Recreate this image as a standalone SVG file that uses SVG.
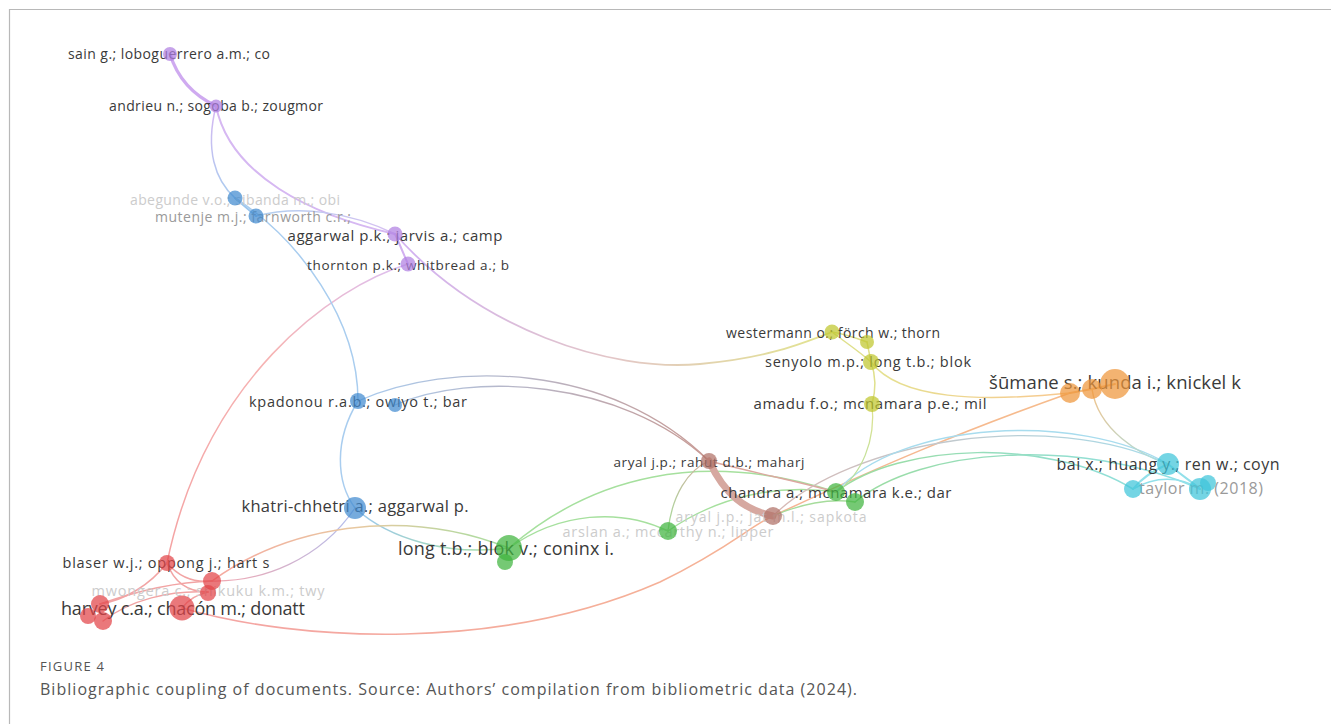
<svg xmlns="http://www.w3.org/2000/svg" width="1331" height="724" viewBox="0 0 1331 724">
  <style>
    .lbl { font-family: "Open Sans", "Liberation Sans", sans-serif; fill: #3a3a3a; text-anchor: middle; }
    .faint { fill: #cccccc; }
    .grey { fill: #9a9a9a; }
    .e { fill: none; stroke-linecap: round; }
    .pu { fill: #b080e2; }
    .bl { fill: #418bd0; }
    .gr { fill: #40b43e; }
    .br { fill: #b07066; }
    .ye { fill: #bfc62c; }
    .or { fill: #ee963a; }
    .cy { fill: #3ec5da; }
    .rd { fill: #e24448; }
    .node circle { fill-opacity: 0.72; }
    .cap { font-family: "Open Sans", "Liberation Sans", sans-serif; fill: #555; }
  </style>
  <defs>
    <linearGradient id="gPuBl" gradientUnits="userSpaceOnUse" x1="216" y1="106" x2="235" y2="198"><stop offset="0" stop-color="#d6b8f2"/><stop offset="1" stop-color="#a9cdef"/></linearGradient>
    <linearGradient id="gPuYe" gradientUnits="userSpaceOnUse" x1="408" y1="264" x2="832" y2="332"><stop offset="0" stop-color="#d2b2f0"/><stop offset="0.5" stop-color="#e3c6c8"/><stop offset="1" stop-color="#e2e48e"/></linearGradient>
    <linearGradient id="gPuRd" gradientUnits="userSpaceOnUse" x1="408" y1="264" x2="167" y2="563"><stop offset="0" stop-color="#dcc0f2"/><stop offset="0.4" stop-color="#f6b4b4"/><stop offset="1" stop-color="#f4a2a2"/></linearGradient>
    <linearGradient id="gBlPu" gradientUnits="userSpaceOnUse" x1="256" y1="216" x2="395" y2="234"><stop offset="0" stop-color="#b0d0ee"/><stop offset="1" stop-color="#d8bff2"/></linearGradient>
    <linearGradient id="gBlBr" gradientUnits="userSpaceOnUse" x1="358" y1="401" x2="709" y2="461"><stop offset="0" stop-color="#aacbee"/><stop offset="1" stop-color="#c89a94"/></linearGradient>
    <linearGradient id="gBlGr" gradientUnits="userSpaceOnUse" x1="355" y1="508" x2="509" y2="548"><stop offset="0" stop-color="#9cc8ee"/><stop offset="1" stop-color="#a8e0a2"/></linearGradient>
    <linearGradient id="gBlRd" gradientUnits="userSpaceOnUse" x1="355" y1="508" x2="212" y2="581"><stop offset="0" stop-color="#b0bff0"/><stop offset="1" stop-color="#f2a8b0"/></linearGradient>
    <linearGradient id="gRdGr" gradientUnits="userSpaceOnUse" x1="212" y1="581" x2="509" y2="548"><stop offset="0" stop-color="#f6a8a0"/><stop offset="0.5" stop-color="#e8c8a0"/><stop offset="1" stop-color="#a6dea0"/></linearGradient>
    <linearGradient id="gRdOr" gradientUnits="userSpaceOnUse" x1="182" y1="608" x2="1070" y2="393"><stop offset="0" stop-color="#f4a4a4"/><stop offset="1" stop-color="#f6bc8c"/></linearGradient>
    <linearGradient id="gGrBr" gradientUnits="userSpaceOnUse" x1="668" y1="531" x2="709" y2="461"><stop offset="0" stop-color="#a8dc9c"/><stop offset="1" stop-color="#d0b0a0"/></linearGradient>
    <linearGradient id="gGrCy" gradientUnits="userSpaceOnUse" x1="836" y1="492" x2="1200" y2="489"><stop offset="0" stop-color="#9cdc9c"/><stop offset="1" stop-color="#8ee0ea"/></linearGradient>
    <linearGradient id="gBrCy" gradientUnits="userSpaceOnUse" x1="773" y1="516" x2="1168" y2="464"><stop offset="0" stop-color="#d8b8b4"/><stop offset="1" stop-color="#a6dcea"/></linearGradient>
    <linearGradient id="gYeGr" gradientUnits="userSpaceOnUse" x1="872" y1="404" x2="836" y2="492"><stop offset="0" stop-color="#dfe290"/><stop offset="1" stop-color="#b0e0a0"/></linearGradient>
    <linearGradient id="gYeOr" gradientUnits="userSpaceOnUse" x1="871" y1="362" x2="1070" y2="393"><stop offset="0" stop-color="#e4e290"/><stop offset="1" stop-color="#f8c890"/></linearGradient>
    <linearGradient id="gOrCy" gradientUnits="userSpaceOnUse" x1="1092" y1="389" x2="1168" y2="464"><stop offset="0" stop-color="#f2c48c"/><stop offset="1" stop-color="#a0e0ea"/></linearGradient>
  </defs>

  <rect x="0" y="0" width="1331" height="724" fill="#ffffff"/>
  <!-- figure frame -->
  <path d="M9.5,724 V9.5 H1331" fill="none" stroke="#b8b8b8" stroke-width="1.2"/>

  <!-- links between documents -->
  <g id="connectors">
    <!-- purple cluster -->
    <path class="e" d="M170,54 C178,80 195,96 216,106" stroke="#cfaaf0" stroke-width="3.2"/>
    <path class="e" d="M216,106 C205,150 215,180 235,198" stroke="url(#gPuBl)" stroke-width="1.5"/>
    <path class="e" d="M216,106 C230,175 310,215 395,234" stroke="#d6b8f2" stroke-width="2"/>
    <path class="e" d="M395,234 C400,245 404,255 408,264" stroke="#d2b0f0" stroke-width="2"/>
    <path class="e" d="M256,216 C300,205 350,212 395,234" stroke="url(#gBlPu)" stroke-width="1.5"/>
    <path class="e" d="M395,234 C480,330 610,372 700,364 C770,358 805,342 832,332" stroke="url(#gPuYe)" stroke-width="1.8"/>
    <path class="e" d="M408,264 C330,288 205,380 167,563" stroke="url(#gPuRd)" stroke-width="1.5"/>
    <!-- blue cluster -->
    <path class="e" d="M235,198 L256,216" stroke="#9cc6ee" stroke-width="2"/>
    <path class="e" d="M235,198 C300,240 358,320 358,401" stroke="#a9cdef" stroke-width="1.5"/>
    <path class="e" d="M358,401 C334,440 336,482 355,508" stroke="#a9cdef" stroke-width="1.5"/>
    <path class="e" d="M358,401 C450,360 610,362 709,461" stroke="url(#gBlBr)" stroke-width="1.3"/>
    <path class="e" d="M395,405 C470,372 620,378 709,461" stroke="url(#gBlBr)" stroke-width="1.3"/>
    <path class="e" d="M355,508 C390,540 450,556 509,548" stroke="url(#gBlGr)" stroke-width="1.5"/>
    <path class="e" d="M355,508 C320,560 262,582 212,581" stroke="url(#gBlRd)" stroke-width="1.3"/>
    <!-- red cluster -->
    <path class="e" d="M212,581 C285,528 400,505 509,548" stroke="url(#gRdGr)" stroke-width="1.5"/>
    <path class="e" d="M167,563 C150,585 125,600 100,604" stroke="#f2a4a4" stroke-width="1.5"/>
    <path class="e" d="M167,563 C180,578 195,583 212,581" stroke="#f2a4a4" stroke-width="1.5"/>
    <path class="e" d="M167,563 C175,585 190,592 208,592" stroke="#f2a4a4" stroke-width="1.5"/>
    <path class="e" d="M100,604 C140,590 175,582 212,581" stroke="#f2a4a4" stroke-width="1.5"/>
    <path class="e" d="M103,621 C130,600 170,590 208,592" stroke="#f2a4a4" stroke-width="1.3"/>
    <path class="e" d="M182,608 C190,598 198,594 208,592" stroke="#f2a4a4" stroke-width="1.3"/>
    <path class="e" d="M182,608 C300,642 500,652 660,582 C730,548 750,526 773,516 C880,466 960,432 1070,393" stroke="url(#gRdOr)" stroke-width="1.6"/>
    <!-- green / brown clusters -->
    <path class="e" d="M509,548 C590,478 700,448 836,492" stroke="#a6e09e" stroke-width="1.5"/>
    <path class="e" d="M509,548 C560,512 620,508 668,531" stroke="#a6e09e" stroke-width="1.5"/>
    <path class="e" d="M668,531 C672,495 688,470 709,461" stroke="url(#gGrBr)" stroke-width="1.3"/>
    <path class="e" d="M668,531 C720,495 780,484 836,492" stroke="#a6e09e" stroke-width="1.3"/>
    <path class="e" d="M709,461 C725,495 745,510 773,516" stroke="#d6a8a0" stroke-width="7"/>
    <path class="e" d="M709,461 C760,474 800,482 836,492" stroke="#dca8a0" stroke-width="1.3"/>
    <path class="e" d="M773,516 C800,504 830,498 855,502" stroke="#a6dc9c" stroke-width="1.3"/>
    <path class="e" d="M836,492 C900,442 1050,438 1133,489" stroke="url(#gGrCy)" stroke-width="1.5"/>
    <path class="e" d="M855,502 C920,448 1080,436 1200,489" stroke="url(#gGrCy)" stroke-width="1.5"/>
    <path class="e" d="M773,516 C850,440 1050,408 1168,464" stroke="url(#gBrCy)" stroke-width="1.3"/>
    <path class="e" d="M836,492 C900,420 1080,412 1168,464" stroke="#a8dcee" stroke-width="1.3"/>
    <!-- yellow cluster -->
    <path class="e" d="M832,332 C845,334 856,338 867,342" stroke="#dfe08c" stroke-width="1.5"/>
    <path class="e" d="M832,332 C845,342 860,352 871,362" stroke="#dfe08c" stroke-width="1.5"/>
    <path class="e" d="M867,342 L871,362" stroke="#dfe08c" stroke-width="1.5"/>
    <path class="e" d="M871,362 C876,376 876,390 872,404" stroke="#dfe08c" stroke-width="1.5"/>
    <path class="e" d="M872,404 C876,440 862,475 836,492" stroke="url(#gYeGr)" stroke-width="1.3"/>
    <path class="e" d="M871,362 C900,400 980,402 1070,393" stroke="url(#gYeOr)" stroke-width="1.5"/>
    <!-- orange / cyan clusters -->
    <path class="e" d="M1070,393 L1092,389 L1115,384" stroke="#f4bc80" stroke-width="2"/>
    <path class="e" d="M1092,389 C1098,430 1140,455 1168,464" stroke="url(#gOrCy)" stroke-width="1.5"/>
    <path class="e" d="M1168,464 C1150,472 1140,480 1133,489" stroke="#92e0ea" stroke-width="2"/>
    <path class="e" d="M1168,464 C1180,474 1192,482 1200,489" stroke="#92e0ea" stroke-width="2"/>
    <path class="e" d="M1133,489 C1155,476 1180,476 1200,489" stroke="#92e0ea" stroke-width="1.5"/>
  </g>

  <!-- purple documents -->
  <g id="n-sain" class="node"><text class="lbl" x="169" y="59" font-size="14" textLength="202">sain g.; loboguerrero a.m.; co</text><circle class="pu" cx="170" cy="54" r="7"/></g>
  <g id="n-andrieu" class="node"><text class="lbl" x="216" y="111" font-size="14" textLength="214">andrieu n.; sogoba b.; zougmor</text><circle class="pu" cx="216" cy="106" r="6.5"/></g>
  <g id="n-aggarwal-pk" class="node"><text class="lbl" x="395" y="241" font-size="15" textLength="215">aggarwal p.k.; jarvis a.; camp</text><circle class="pu" cx="395" cy="234" r="7.5"/></g>
  <g id="n-thornton" class="node"><text class="lbl" x="408" y="270" font-size="13.5" textLength="202">thornton p.k.; whitbread a.; b</text><circle class="pu" cx="408" cy="264" r="7.5"/></g>

  <!-- blue documents -->
  <g id="n-abegunde" class="node"><text class="lbl faint" x="235" y="205" font-size="14" textLength="210">abegunde v.o.; sibanda m.; obi</text><circle class="bl" cx="235" cy="198" r="7.5"/></g>
  <g id="n-mutenje" class="node"><text class="lbl grey" x="253" y="222" font-size="14" textLength="196">mutenje m.j.; farnworth c.r.;</text><circle class="bl" cx="256" cy="216" r="7.5"/></g>
  <g id="n-kpadonou" class="node"><text class="lbl" x="358" y="407" font-size="14.5" textLength="218">kpadonou r.a.b.; owiyo t.; bar</text><circle class="bl" cx="358" cy="401" r="8"/><circle class="bl" cx="395" cy="405" r="7"/></g>
  <g id="n-khatri" class="node"><text class="lbl" x="355" y="512" font-size="16.5" textLength="227">khatri-chhetri a.; aggarwal p.</text><circle class="bl" cx="355" cy="508" r="11"/></g>

  <!-- green documents -->
  <g id="n-long" class="node"><text class="lbl" x="506" y="555" font-size="18" textLength="216">long t.b.; blok v.; coninx i.</text><circle class="gr" cx="505" cy="562" r="8"/><circle class="gr" cx="509" cy="548" r="13"/></g>
  <g id="n-arslan" class="node"><text class="lbl faint" x="668" y="537" font-size="14.5" textLength="211">arslan a.; mccarthy n.; lipper</text><circle class="gr" cx="668" cy="531" r="9"/></g>
  <g id="n-chandra" class="node"><text class="lbl" x="836" y="498" font-size="15" textLength="231">chandra a.; mcnamara k.e.; dar</text><circle class="gr" cx="855" cy="502" r="9"/><circle class="gr" cx="836" cy="492" r="9"/></g>

  <!-- brown documents -->
  <g id="n-aryal-rahut" class="node"><text class="lbl" x="709" y="467" font-size="13.5" textLength="191">aryal j.p.; rahut d.b.; maharj</text><circle class="br" cx="709" cy="461" r="8"/></g>
  <g id="n-aryal-jat" class="node"><text class="lbl faint" x="771" y="522" font-size="14" textLength="191">aryal j.p.; jat m.l.; sapkota</text><circle class="br" cx="773" cy="516" r="9"/></g>

  <!-- yellow documents -->
  <g id="n-westermann" class="node"><text class="lbl" x="833" y="338" font-size="14" textLength="214">westermann o.; förch w.; thorn</text><circle class="ye" cx="832" cy="332" r="7.5"/><circle class="ye" cx="867" cy="342" r="7"/></g>
  <g id="n-senyolo" class="node"><text class="lbl" x="868" y="367" font-size="14.5" textLength="206">senyolo m.p.; long t.b.; blok</text><circle class="ye" cx="871" cy="362" r="8"/></g>
  <g id="n-amadu" class="node"><text class="lbl" x="870" y="409" font-size="15" textLength="233">amadu f.o.; mcnamara p.e.; mil</text><circle class="ye" cx="872" cy="404" r="8"/></g>

  <!-- orange documents -->
  <g id="n-sumane" class="node"><text class="lbl" x="1115" y="389" font-size="18.5" textLength="252">šūmane s.; kunda i.; knickel k</text><circle class="or" cx="1070" cy="393" r="10"/><circle class="or" cx="1092" cy="389" r="10"/><circle class="or" cx="1115" cy="384" r="15"/></g>

  <!-- cyan documents -->
  <g id="n-bai" class="node"><text class="lbl" x="1168" y="470" font-size="16" textLength="223">bai x.; huang y.; ren w.; coyn</text><circle class="cy" cx="1168" cy="464" r="11"/></g>
  <g id="n-taylor" class="node"><text class="lbl grey" x="1201" y="494" font-size="16" textLength="124">taylor m. (2018)</text><circle class="cy" cx="1133" cy="489" r="9"/><circle class="cy" cx="1208" cy="483" r="8"/><circle class="cy" cx="1200" cy="489" r="11"/></g>

  <!-- red documents -->
  <g id="n-blaser" class="node"><text class="lbl" x="166" y="568" font-size="14.5" textLength="207">blaser w.j.; oppong j.; hart s</text><circle class="rd" cx="167" cy="563" r="8"/></g>
  <g id="n-mwongera" class="node"><text class="lbl faint" x="208" y="596" font-size="14.5" textLength="233">mwongera c.; shikuku k.m.; twy</text><circle class="rd" cx="212" cy="581" r="9"/><circle class="rd" cx="208" cy="593" r="8"/></g>
  <g id="n-harvey" class="node"><text class="lbl" x="183" y="615" font-size="18" textLength="244">harvey c.a.; chacón m.; donatt</text><circle class="rd" cx="100" cy="604" r="9"/><circle class="rd" cx="88" cy="616" r="8"/><circle class="rd" cx="103" cy="621" r="9"/></g>
  <g id="n-chacon" class="node"><circle class="rd" cx="182" cy="608" r="12.5"/></g>

  <!-- caption -->
  <text class="cap" x="40" y="671" font-size="13" textLength="64">FIGURE 4</text>
  <text class="cap" x="40" y="695" font-size="16" textLength="817">Bibliographic coupling of documents. Source: Authors’ compilation from bibliometric data (2024).</text>
</svg>
